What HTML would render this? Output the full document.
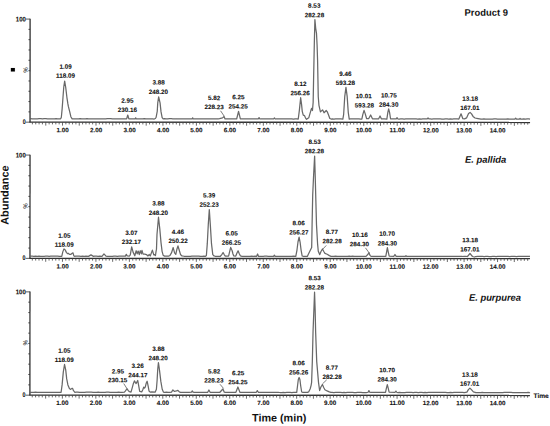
<!DOCTYPE html><html><head><meta charset="utf-8"><style>html,body{margin:0;padding:0;background:#fff;overflow:hidden}svg{display:block}</style></head><body>
<svg width="550" height="426" viewBox="0 0 550 426">
<rect width="550" height="426" fill="#fff"/>
<g transform="rotate(0.03 275 213)" font-family="Liberation Sans, sans-serif" font-weight="bold" fill="#111" stroke="#111" stroke-width="0.08">
<polyline transform="translate(0,0.3)" fill="none" stroke="#686868" stroke-width="1.25" stroke-linejoin="round" points="30.5,118.5 32.2,118.6 33.9,118.6 35.6,118.6 37.3,118.6 39.0,118.5 40.7,118.5 42.4,118.7 44.1,118.5 45.8,118.5 47.5,118.7 49.2,118.6 50.9,118.7 52.6,118.6 54.3,118.6 56.0,118.5 57.7,118.6 60.6,118.6 61.3,117.0 62.1,108.4 62.9,97.6 63.7,86.8 64.6,80.9 65.6,86.8 66.9,97.6 67.8,103.5 68.3,106.2 69.7,111.6 70.8,116.5 72.1,118.7 73.3,118.7 75.0,118.6 76.7,118.7 78.4,118.6 80.1,118.5 81.8,118.7 83.5,118.6 85.2,118.6 86.9,118.5 88.6,118.7 90.3,118.6 92.0,118.7 93.7,118.7 95.4,118.7 97.1,118.7 98.8,118.6 100.5,118.7 102.2,118.6 103.9,118.7 105.6,118.7 107.3,118.5 109.0,118.5 110.7,118.5 112.4,118.7 114.1,118.6 115.8,118.6 117.5,118.6 119.2,118.6 120.9,118.6 122.6,118.6 124.3,118.6 126.6,118.7 127.7,114.8 128.8,118.7 130.0,118.6 131.7,118.7 133.4,118.6 135.0,118.7 135.6,117.6 136.2,118.7 137.4,118.7 139.1,118.7 140.8,118.7 142.5,118.6 144.2,118.5 145.9,118.7 147.6,118.7 149.3,118.7 151.0,118.6 152.7,118.7 154.2,118.8 155.2,118.3 156.1,117.0 157.2,111.0 157.7,102.6 158.6,96.6 160.0,102.6 161.0,111.7 162.1,117.4 163.1,118.6 164.3,118.5 166.0,118.7 167.7,118.6 169.4,118.5 171.1,118.5 172.8,118.7 174.5,118.7 176.2,118.5 177.9,118.7 179.6,118.6 181.3,118.5 183.0,118.6 184.7,118.7 186.4,118.7 188.1,118.5 189.8,118.6 192.0,118.7 192.6,117.6 193.2,118.7 194.4,118.5 196.1,118.7 197.8,118.6 199.5,118.7 201.2,118.7 202.9,118.6 204.6,118.7 206.3,118.6 208.0,118.5 209.7,118.6 211.4,118.5 213.1,118.5 214.8,118.6 216.5,118.6 218.2,118.5 219.5,118.4 222.5,117.6 224.0,116.2 225.0,118.7 226.2,118.5 227.9,118.7 229.6,118.6 231.3,118.7 233.0,118.7 234.7,118.6 236.6,118.7 238.5,111.0 240.3,118.7 241.5,118.6 243.2,118.6 244.9,118.6 246.6,118.6 248.3,118.6 250.0,118.6 251.7,118.7 253.4,118.6 255.1,118.6 256.8,118.7 258.2,118.7 259.0,117.3 259.8,118.7 261.0,118.5 262.7,118.6 264.4,118.7 266.1,118.6 267.8,118.6 269.5,118.5 271.2,118.6 273.6,118.7 274.4,117.6 275.2,118.7 276.4,118.6 278.1,118.5 279.8,118.6 281.5,118.6 283.2,118.5 284.9,118.6 286.6,118.6 288.3,118.6 290.0,118.6 291.7,118.6 293.4,118.7 295.1,118.5 296.8,118.5 298.2,118.7 299.3,110.0 300.6,97.4 301.5,104.0 302.2,111.0 303.2,114.8 304.4,115.3 305.4,117.5 306.5,119.0 308.7,117.5 310.0,113.0 311.0,109.5 311.6,108.0 312.4,110.2 313.1,102.0 313.5,80.0 313.9,60.0 314.3,40.0 314.8,19.3 315.6,28.0 316.4,33.0 317.0,45.0 317.5,60.0 318.2,96.4 318.9,105.0 320.4,111.6 322.5,109.5 324.0,112.4 326.2,110.2 327.3,111.6 328.4,114.5 329.8,118.2 331.0,118.7 332.2,118.6 333.9,118.7 335.6,118.5 337.3,118.6 339.0,118.6 340.7,118.6 342.8,118.7 343.6,114.0 344.7,96.0 345.9,87.0 347.1,96.0 348.2,112.0 349.2,118.7 350.4,118.6 352.1,118.6 353.8,118.6 355.5,118.6 357.2,118.6 358.9,118.6 360.6,118.7 361.8,118.7 362.8,114.0 364.0,110.0 365.2,113.5 366.6,118.4 368.6,118.4 370.6,114.6 372.4,118.5 378.5,118.6 380.0,115.6 381.4,118.6 382.6,118.5 384.3,118.6 386.8,118.7 387.8,112.0 388.6,108.6 389.5,112.0 390.5,118.4 396.2,118.4 397.0,117.3 397.8,118.6 399.0,118.7 400.7,118.6 402.4,118.5 404.1,118.7 405.8,118.5 407.5,118.5 409.2,118.6 410.9,118.6 412.6,118.5 414.3,118.6 416.0,118.6 417.7,118.7 419.4,118.6 421.1,118.7 422.8,118.5 424.5,118.6 427.2,118.6 428.0,117.6 428.8,118.6 430.0,118.6 431.7,118.7 433.4,118.6 435.1,118.5 436.8,118.5 438.5,118.6 440.2,118.5 441.9,118.7 443.6,118.7 445.3,118.5 447.0,118.5 448.7,118.7 450.4,118.6 452.1,118.7 453.8,118.6 455.5,118.5 457.2,118.6 458.8,118.7 461.0,113.4 462.8,118.3 464.5,118.5 466.5,117.5 468.5,113.0 470.0,112.0 471.5,113.5 473.0,116.0 475.0,117.6 478.0,118.2 481.0,118.8 482.2,118.7 483.9,118.5 485.6,118.6 487.3,118.6 489.0,118.6 490.7,118.6 492.4,118.7 494.1,118.5 495.8,118.5 497.5,118.7 499.2,118.7 500.9,118.7 502.6,118.6 504.3,118.7 506.0,118.7 507.7,118.5 509.4,118.7 511.1,118.7 512.8,118.6 514.8,118.8 515.6,117.8 516.6,118.8 519.2,118.8 520.0,118.0 520.8,118.8 522.0,118.6 523.7,118.5 525.4,118.6 527.1,118.5 528.8,118.5 530.0,118.6"/>
<line x1="30.0" y1="18.9" x2="30.0" y2="122.3" stroke="#333" stroke-width="1.3"/>
<line x1="25.7" y1="19.2" x2="30.0" y2="19.2" stroke="#333" stroke-width="0.8"/>
<line x1="25.7" y1="122.3" x2="30.0" y2="122.3" stroke="#333" stroke-width="0.8"/>
<line x1="28.4" y1="29.5" x2="30.0" y2="29.5" stroke="#333" stroke-width="0.9"/>
<line x1="28.4" y1="39.8" x2="30.0" y2="39.8" stroke="#333" stroke-width="0.9"/>
<line x1="28.4" y1="50.1" x2="30.0" y2="50.1" stroke="#333" stroke-width="0.9"/>
<line x1="28.4" y1="60.4" x2="30.0" y2="60.4" stroke="#333" stroke-width="0.9"/>
<line x1="28.4" y1="70.8" x2="30.0" y2="70.8" stroke="#333" stroke-width="0.9"/>
<line x1="28.4" y1="81.1" x2="30.0" y2="81.1" stroke="#333" stroke-width="0.9"/>
<line x1="28.4" y1="91.4" x2="30.0" y2="91.4" stroke="#333" stroke-width="0.9"/>
<line x1="28.4" y1="101.7" x2="30.0" y2="101.7" stroke="#333" stroke-width="0.9"/>
<line x1="28.4" y1="112.0" x2="30.0" y2="112.0" stroke="#333" stroke-width="0.9"/>
<line x1="29.4" y1="122.3" x2="530.0" y2="122.3" stroke="#333" stroke-width="1.4"/>
<line x1="32.35" y1="122.3" x2="32.35" y2="124.5" stroke="#444" stroke-width="0.8"/>
<line x1="35.69" y1="122.3" x2="35.69" y2="124.5" stroke="#444" stroke-width="0.8"/>
<line x1="39.04" y1="122.3" x2="39.04" y2="124.5" stroke="#444" stroke-width="0.8"/>
<line x1="42.39" y1="122.3" x2="42.39" y2="124.5" stroke="#444" stroke-width="0.8"/>
<line x1="45.73" y1="122.3" x2="45.73" y2="125.7" stroke="#444" stroke-width="0.8"/>
<line x1="49.08" y1="122.3" x2="49.08" y2="124.5" stroke="#444" stroke-width="0.8"/>
<line x1="52.43" y1="122.3" x2="52.43" y2="124.5" stroke="#444" stroke-width="0.8"/>
<line x1="55.78" y1="122.3" x2="55.78" y2="124.5" stroke="#444" stroke-width="0.8"/>
<line x1="59.12" y1="122.3" x2="59.12" y2="124.5" stroke="#444" stroke-width="0.8"/>
<line x1="62.47" y1="122.3" x2="62.47" y2="125.7" stroke="#444" stroke-width="0.8"/>
<line x1="65.82" y1="122.3" x2="65.82" y2="124.5" stroke="#444" stroke-width="0.8"/>
<line x1="69.16" y1="122.3" x2="69.16" y2="124.5" stroke="#444" stroke-width="0.8"/>
<line x1="72.51" y1="122.3" x2="72.51" y2="124.5" stroke="#444" stroke-width="0.8"/>
<line x1="75.86" y1="122.3" x2="75.86" y2="124.5" stroke="#444" stroke-width="0.8"/>
<line x1="79.21" y1="122.3" x2="79.21" y2="125.7" stroke="#444" stroke-width="0.8"/>
<line x1="82.55" y1="122.3" x2="82.55" y2="124.5" stroke="#444" stroke-width="0.8"/>
<line x1="85.90" y1="122.3" x2="85.90" y2="124.5" stroke="#444" stroke-width="0.8"/>
<line x1="89.25" y1="122.3" x2="89.25" y2="124.5" stroke="#444" stroke-width="0.8"/>
<line x1="92.59" y1="122.3" x2="92.59" y2="124.5" stroke="#444" stroke-width="0.8"/>
<line x1="95.94" y1="122.3" x2="95.94" y2="125.7" stroke="#444" stroke-width="0.8"/>
<line x1="99.29" y1="122.3" x2="99.29" y2="124.5" stroke="#444" stroke-width="0.8"/>
<line x1="102.63" y1="122.3" x2="102.63" y2="124.5" stroke="#444" stroke-width="0.8"/>
<line x1="105.98" y1="122.3" x2="105.98" y2="124.5" stroke="#444" stroke-width="0.8"/>
<line x1="109.33" y1="122.3" x2="109.33" y2="124.5" stroke="#444" stroke-width="0.8"/>
<line x1="112.68" y1="122.3" x2="112.68" y2="125.7" stroke="#444" stroke-width="0.8"/>
<line x1="116.02" y1="122.3" x2="116.02" y2="124.5" stroke="#444" stroke-width="0.8"/>
<line x1="119.37" y1="122.3" x2="119.37" y2="124.5" stroke="#444" stroke-width="0.8"/>
<line x1="122.72" y1="122.3" x2="122.72" y2="124.5" stroke="#444" stroke-width="0.8"/>
<line x1="126.06" y1="122.3" x2="126.06" y2="124.5" stroke="#444" stroke-width="0.8"/>
<line x1="129.41" y1="122.3" x2="129.41" y2="125.7" stroke="#444" stroke-width="0.8"/>
<line x1="132.76" y1="122.3" x2="132.76" y2="124.5" stroke="#444" stroke-width="0.8"/>
<line x1="136.10" y1="122.3" x2="136.10" y2="124.5" stroke="#444" stroke-width="0.8"/>
<line x1="139.45" y1="122.3" x2="139.45" y2="124.5" stroke="#444" stroke-width="0.8"/>
<line x1="142.80" y1="122.3" x2="142.80" y2="124.5" stroke="#444" stroke-width="0.8"/>
<line x1="146.15" y1="122.3" x2="146.15" y2="125.7" stroke="#444" stroke-width="0.8"/>
<line x1="149.49" y1="122.3" x2="149.49" y2="124.5" stroke="#444" stroke-width="0.8"/>
<line x1="152.84" y1="122.3" x2="152.84" y2="124.5" stroke="#444" stroke-width="0.8"/>
<line x1="156.19" y1="122.3" x2="156.19" y2="124.5" stroke="#444" stroke-width="0.8"/>
<line x1="159.53" y1="122.3" x2="159.53" y2="124.5" stroke="#444" stroke-width="0.8"/>
<line x1="162.88" y1="122.3" x2="162.88" y2="125.7" stroke="#444" stroke-width="0.8"/>
<line x1="166.23" y1="122.3" x2="166.23" y2="124.5" stroke="#444" stroke-width="0.8"/>
<line x1="169.57" y1="122.3" x2="169.57" y2="124.5" stroke="#444" stroke-width="0.8"/>
<line x1="172.92" y1="122.3" x2="172.92" y2="124.5" stroke="#444" stroke-width="0.8"/>
<line x1="176.27" y1="122.3" x2="176.27" y2="124.5" stroke="#444" stroke-width="0.8"/>
<line x1="179.62" y1="122.3" x2="179.62" y2="125.7" stroke="#444" stroke-width="0.8"/>
<line x1="182.96" y1="122.3" x2="182.96" y2="124.5" stroke="#444" stroke-width="0.8"/>
<line x1="186.31" y1="122.3" x2="186.31" y2="124.5" stroke="#444" stroke-width="0.8"/>
<line x1="189.66" y1="122.3" x2="189.66" y2="124.5" stroke="#444" stroke-width="0.8"/>
<line x1="193.00" y1="122.3" x2="193.00" y2="124.5" stroke="#444" stroke-width="0.8"/>
<line x1="196.35" y1="122.3" x2="196.35" y2="125.7" stroke="#444" stroke-width="0.8"/>
<line x1="199.70" y1="122.3" x2="199.70" y2="124.5" stroke="#444" stroke-width="0.8"/>
<line x1="203.04" y1="122.3" x2="203.04" y2="124.5" stroke="#444" stroke-width="0.8"/>
<line x1="206.39" y1="122.3" x2="206.39" y2="124.5" stroke="#444" stroke-width="0.8"/>
<line x1="209.74" y1="122.3" x2="209.74" y2="124.5" stroke="#444" stroke-width="0.8"/>
<line x1="213.08" y1="122.3" x2="213.08" y2="125.7" stroke="#444" stroke-width="0.8"/>
<line x1="216.43" y1="122.3" x2="216.43" y2="124.5" stroke="#444" stroke-width="0.8"/>
<line x1="219.78" y1="122.3" x2="219.78" y2="124.5" stroke="#444" stroke-width="0.8"/>
<line x1="223.13" y1="122.3" x2="223.13" y2="124.5" stroke="#444" stroke-width="0.8"/>
<line x1="226.47" y1="122.3" x2="226.47" y2="124.5" stroke="#444" stroke-width="0.8"/>
<line x1="229.82" y1="122.3" x2="229.82" y2="125.7" stroke="#444" stroke-width="0.8"/>
<line x1="233.17" y1="122.3" x2="233.17" y2="124.5" stroke="#444" stroke-width="0.8"/>
<line x1="236.51" y1="122.3" x2="236.51" y2="124.5" stroke="#444" stroke-width="0.8"/>
<line x1="239.86" y1="122.3" x2="239.86" y2="124.5" stroke="#444" stroke-width="0.8"/>
<line x1="243.21" y1="122.3" x2="243.21" y2="124.5" stroke="#444" stroke-width="0.8"/>
<line x1="246.55" y1="122.3" x2="246.55" y2="125.7" stroke="#444" stroke-width="0.8"/>
<line x1="249.90" y1="122.3" x2="249.90" y2="124.5" stroke="#444" stroke-width="0.8"/>
<line x1="253.25" y1="122.3" x2="253.25" y2="124.5" stroke="#444" stroke-width="0.8"/>
<line x1="256.60" y1="122.3" x2="256.60" y2="124.5" stroke="#444" stroke-width="0.8"/>
<line x1="259.94" y1="122.3" x2="259.94" y2="124.5" stroke="#444" stroke-width="0.8"/>
<line x1="263.29" y1="122.3" x2="263.29" y2="125.7" stroke="#444" stroke-width="0.8"/>
<line x1="266.64" y1="122.3" x2="266.64" y2="124.5" stroke="#444" stroke-width="0.8"/>
<line x1="269.98" y1="122.3" x2="269.98" y2="124.5" stroke="#444" stroke-width="0.8"/>
<line x1="273.33" y1="122.3" x2="273.33" y2="124.5" stroke="#444" stroke-width="0.8"/>
<line x1="276.68" y1="122.3" x2="276.68" y2="124.5" stroke="#444" stroke-width="0.8"/>
<line x1="280.02" y1="122.3" x2="280.02" y2="125.7" stroke="#444" stroke-width="0.8"/>
<line x1="283.37" y1="122.3" x2="283.37" y2="124.5" stroke="#444" stroke-width="0.8"/>
<line x1="286.72" y1="122.3" x2="286.72" y2="124.5" stroke="#444" stroke-width="0.8"/>
<line x1="290.07" y1="122.3" x2="290.07" y2="124.5" stroke="#444" stroke-width="0.8"/>
<line x1="293.41" y1="122.3" x2="293.41" y2="124.5" stroke="#444" stroke-width="0.8"/>
<line x1="296.76" y1="122.3" x2="296.76" y2="125.7" stroke="#444" stroke-width="0.8"/>
<line x1="300.11" y1="122.3" x2="300.11" y2="124.5" stroke="#444" stroke-width="0.8"/>
<line x1="303.45" y1="122.3" x2="303.45" y2="124.5" stroke="#444" stroke-width="0.8"/>
<line x1="306.80" y1="122.3" x2="306.80" y2="124.5" stroke="#444" stroke-width="0.8"/>
<line x1="310.15" y1="122.3" x2="310.15" y2="124.5" stroke="#444" stroke-width="0.8"/>
<line x1="313.49" y1="122.3" x2="313.49" y2="125.7" stroke="#444" stroke-width="0.8"/>
<line x1="316.84" y1="122.3" x2="316.84" y2="124.5" stroke="#444" stroke-width="0.8"/>
<line x1="320.19" y1="122.3" x2="320.19" y2="124.5" stroke="#444" stroke-width="0.8"/>
<line x1="323.54" y1="122.3" x2="323.54" y2="124.5" stroke="#444" stroke-width="0.8"/>
<line x1="326.88" y1="122.3" x2="326.88" y2="124.5" stroke="#444" stroke-width="0.8"/>
<line x1="330.23" y1="122.3" x2="330.23" y2="125.7" stroke="#444" stroke-width="0.8"/>
<line x1="333.58" y1="122.3" x2="333.58" y2="124.5" stroke="#444" stroke-width="0.8"/>
<line x1="336.92" y1="122.3" x2="336.92" y2="124.5" stroke="#444" stroke-width="0.8"/>
<line x1="340.27" y1="122.3" x2="340.27" y2="124.5" stroke="#444" stroke-width="0.8"/>
<line x1="343.62" y1="122.3" x2="343.62" y2="124.5" stroke="#444" stroke-width="0.8"/>
<line x1="346.96" y1="122.3" x2="346.96" y2="125.7" stroke="#444" stroke-width="0.8"/>
<line x1="350.31" y1="122.3" x2="350.31" y2="124.5" stroke="#444" stroke-width="0.8"/>
<line x1="353.66" y1="122.3" x2="353.66" y2="124.5" stroke="#444" stroke-width="0.8"/>
<line x1="357.01" y1="122.3" x2="357.01" y2="124.5" stroke="#444" stroke-width="0.8"/>
<line x1="360.35" y1="122.3" x2="360.35" y2="124.5" stroke="#444" stroke-width="0.8"/>
<line x1="363.70" y1="122.3" x2="363.70" y2="125.7" stroke="#444" stroke-width="0.8"/>
<line x1="367.05" y1="122.3" x2="367.05" y2="124.5" stroke="#444" stroke-width="0.8"/>
<line x1="370.39" y1="122.3" x2="370.39" y2="124.5" stroke="#444" stroke-width="0.8"/>
<line x1="373.74" y1="122.3" x2="373.74" y2="124.5" stroke="#444" stroke-width="0.8"/>
<line x1="377.09" y1="122.3" x2="377.09" y2="124.5" stroke="#444" stroke-width="0.8"/>
<line x1="380.43" y1="122.3" x2="380.43" y2="125.7" stroke="#444" stroke-width="0.8"/>
<line x1="383.78" y1="122.3" x2="383.78" y2="124.5" stroke="#444" stroke-width="0.8"/>
<line x1="387.13" y1="122.3" x2="387.13" y2="124.5" stroke="#444" stroke-width="0.8"/>
<line x1="390.48" y1="122.3" x2="390.48" y2="124.5" stroke="#444" stroke-width="0.8"/>
<line x1="393.82" y1="122.3" x2="393.82" y2="124.5" stroke="#444" stroke-width="0.8"/>
<line x1="397.17" y1="122.3" x2="397.17" y2="125.7" stroke="#444" stroke-width="0.8"/>
<line x1="400.52" y1="122.3" x2="400.52" y2="124.5" stroke="#444" stroke-width="0.8"/>
<line x1="403.86" y1="122.3" x2="403.86" y2="124.5" stroke="#444" stroke-width="0.8"/>
<line x1="407.21" y1="122.3" x2="407.21" y2="124.5" stroke="#444" stroke-width="0.8"/>
<line x1="410.56" y1="122.3" x2="410.56" y2="124.5" stroke="#444" stroke-width="0.8"/>
<line x1="413.90" y1="122.3" x2="413.90" y2="125.7" stroke="#444" stroke-width="0.8"/>
<line x1="417.25" y1="122.3" x2="417.25" y2="124.5" stroke="#444" stroke-width="0.8"/>
<line x1="420.60" y1="122.3" x2="420.60" y2="124.5" stroke="#444" stroke-width="0.8"/>
<line x1="423.95" y1="122.3" x2="423.95" y2="124.5" stroke="#444" stroke-width="0.8"/>
<line x1="427.29" y1="122.3" x2="427.29" y2="124.5" stroke="#444" stroke-width="0.8"/>
<line x1="430.64" y1="122.3" x2="430.64" y2="125.7" stroke="#444" stroke-width="0.8"/>
<line x1="433.99" y1="122.3" x2="433.99" y2="124.5" stroke="#444" stroke-width="0.8"/>
<line x1="437.33" y1="122.3" x2="437.33" y2="124.5" stroke="#444" stroke-width="0.8"/>
<line x1="440.68" y1="122.3" x2="440.68" y2="124.5" stroke="#444" stroke-width="0.8"/>
<line x1="444.03" y1="122.3" x2="444.03" y2="124.5" stroke="#444" stroke-width="0.8"/>
<line x1="447.37" y1="122.3" x2="447.37" y2="125.7" stroke="#444" stroke-width="0.8"/>
<line x1="450.72" y1="122.3" x2="450.72" y2="124.5" stroke="#444" stroke-width="0.8"/>
<line x1="454.07" y1="122.3" x2="454.07" y2="124.5" stroke="#444" stroke-width="0.8"/>
<line x1="457.42" y1="122.3" x2="457.42" y2="124.5" stroke="#444" stroke-width="0.8"/>
<line x1="460.76" y1="122.3" x2="460.76" y2="124.5" stroke="#444" stroke-width="0.8"/>
<line x1="464.11" y1="122.3" x2="464.11" y2="125.7" stroke="#444" stroke-width="0.8"/>
<line x1="467.46" y1="122.3" x2="467.46" y2="124.5" stroke="#444" stroke-width="0.8"/>
<line x1="470.80" y1="122.3" x2="470.80" y2="124.5" stroke="#444" stroke-width="0.8"/>
<line x1="474.15" y1="122.3" x2="474.15" y2="124.5" stroke="#444" stroke-width="0.8"/>
<line x1="477.50" y1="122.3" x2="477.50" y2="124.5" stroke="#444" stroke-width="0.8"/>
<line x1="480.84" y1="122.3" x2="480.84" y2="125.7" stroke="#444" stroke-width="0.8"/>
<line x1="484.19" y1="122.3" x2="484.19" y2="124.5" stroke="#444" stroke-width="0.8"/>
<line x1="487.54" y1="122.3" x2="487.54" y2="124.5" stroke="#444" stroke-width="0.8"/>
<line x1="490.89" y1="122.3" x2="490.89" y2="124.5" stroke="#444" stroke-width="0.8"/>
<line x1="494.23" y1="122.3" x2="494.23" y2="124.5" stroke="#444" stroke-width="0.8"/>
<line x1="497.58" y1="122.3" x2="497.58" y2="125.7" stroke="#444" stroke-width="0.8"/>
<line x1="500.93" y1="122.3" x2="500.93" y2="124.5" stroke="#444" stroke-width="0.8"/>
<line x1="504.27" y1="122.3" x2="504.27" y2="124.5" stroke="#444" stroke-width="0.8"/>
<line x1="507.62" y1="122.3" x2="507.62" y2="124.5" stroke="#444" stroke-width="0.8"/>
<line x1="510.97" y1="122.3" x2="510.97" y2="124.5" stroke="#444" stroke-width="0.8"/>
<line x1="514.31" y1="122.3" x2="514.31" y2="125.7" stroke="#444" stroke-width="0.8"/>
<line x1="517.66" y1="122.3" x2="517.66" y2="124.5" stroke="#444" stroke-width="0.8"/>
<line x1="521.01" y1="122.3" x2="521.01" y2="124.5" stroke="#444" stroke-width="0.8"/>
<line x1="524.36" y1="122.3" x2="524.36" y2="124.5" stroke="#444" stroke-width="0.8"/>
<line x1="527.70" y1="122.3" x2="527.70" y2="124.5" stroke="#444" stroke-width="0.8"/>
<text x="62.57" y="132.31" font-size="6.3" text-anchor="middle">1.00</text>
<text x="96.04" y="132.31" font-size="6.3" text-anchor="middle">2.00</text>
<text x="129.51" y="132.31" font-size="6.3" text-anchor="middle">3.00</text>
<text x="162.98" y="132.31" font-size="6.3" text-anchor="middle">4.00</text>
<text x="196.45" y="132.31" font-size="6.3" text-anchor="middle">5.00</text>
<text x="229.92" y="132.31" font-size="6.3" text-anchor="middle">6.00</text>
<text x="263.39" y="132.31" font-size="6.3" text-anchor="middle">7.00</text>
<text x="296.86" y="132.31" font-size="6.3" text-anchor="middle">8.00</text>
<text x="330.33" y="132.31" font-size="6.3" text-anchor="middle">9.00</text>
<text x="363.80" y="132.31" font-size="6.3" text-anchor="middle">10.00</text>
<text x="397.27" y="132.31" font-size="6.3" text-anchor="middle">11.00</text>
<text x="430.74" y="132.31" font-size="6.3" text-anchor="middle">12.00</text>
<text x="464.21" y="132.31" font-size="6.3" text-anchor="middle">13.00</text>
<text x="497.68" y="132.31" font-size="6.3" text-anchor="middle">14.00</text>
<text transform="translate(25.8,21.70) scale(0.9,1)" font-size="6.7" text-anchor="end">100</text>
<text transform="translate(25.6,124.20) scale(0.8,1)" font-size="6.7" text-anchor="end">0</text>
<text transform="translate(27.6,70.2) rotate(-90)" font-size="6.2" font-weight="normal" fill="#444" stroke="#444" stroke-width="0.1" text-anchor="middle">%</text>
<text x="464.5" y="15.6" font-size="9.4" stroke="none">Product 9</text>
<polyline transform="translate(0,0.0)" fill="none" stroke="#686868" stroke-width="1.25" stroke-linejoin="round" points="30.5,256.3 32.2,256.2 33.9,256.4 35.6,256.2 37.3,256.4 39.0,256.3 40.7,256.4 42.4,256.4 44.1,256.4 45.8,256.3 47.5,256.2 49.2,256.4 50.9,256.2 52.6,256.3 54.3,256.3 56.0,256.3 57.7,256.3 59.4,256.4 61.8,256.5 62.8,252.0 64.0,249.0 65.2,250.0 66.4,252.5 67.5,253.8 68.3,253.4 69.5,254.5 71.0,254.4 72.2,253.4 73.0,253.0 73.8,255.8 74.6,256.5 75.8,256.3 77.5,256.3 79.2,256.2 80.9,256.4 82.6,256.3 84.3,256.4 86.0,256.3 88.5,256.5 91.0,255.0 93.5,256.5 94.7,256.2 96.4,256.3 98.1,256.4 99.8,256.2 102.0,256.5 104.0,254.0 106.0,256.3 107.2,256.4 108.9,256.4 110.6,256.4 112.3,256.4 114.0,256.2 115.7,256.3 117.4,256.4 119.1,256.2 120.8,256.2 122.5,256.2 125.4,256.2 126.3,254.4 127.2,256.0 129.5,256.1 130.3,254.9 131.7,247.0 133.1,252.2 134.8,255.8 136.2,250.8 137.2,253.9 138.2,251.1 139.3,254.6 140.3,250.8 141.4,253.9 142.0,250.4 143.1,254.2 144.8,254.2 146.5,254.6 147.9,256.0 149.3,254.6 150.3,256.0 152.4,250.2 153.8,255.0 154.8,254.8 155.5,255.6 156.0,252.0 156.5,249.2 157.0,234.5 158.5,217.3 159.8,228.9 161.0,242.4 162.1,251.4 163.2,255.4 164.5,256.2 168.5,256.3 170.0,255.5 171.5,253.0 173.2,247.6 174.6,253.0 175.8,254.5 177.0,249.0 178.0,246.0 179.2,250.0 180.5,254.5 182.0,256.0 184.0,256.3 185.2,256.3 186.9,256.3 188.6,256.3 190.3,256.4 192.0,256.2 193.7,256.2 195.4,256.2 197.1,256.2 198.8,256.2 200.5,256.4 202.2,256.4 203.9,256.2 205.6,256.3 206.4,255.6 207.3,243.7 208.3,224.4 209.3,209.6 210.3,224.4 211.5,243.7 212.8,254.7 214.1,256.0 215.2,256.3 216.4,256.3 218.1,256.3 220.4,256.3 221.8,254.6 223.1,252.5 224.2,254.6 225.3,256.2 228.6,256.2 229.6,252.0 230.7,247.5 231.6,249.5 232.1,250.5 233.0,254.0 233.8,256.0 235.8,256.1 237.0,253.0 238.1,250.8 239.2,253.5 240.5,256.0 242.0,256.3 243.2,256.3 244.9,256.3 246.6,256.3 248.3,256.3 250.0,256.3 251.7,256.2 253.4,256.3 255.1,256.2 256.6,256.4 257.6,254.0 258.6,256.4 259.8,256.3 261.5,256.4 263.2,256.3 264.9,256.2 266.6,256.2 268.3,256.3 270.0,256.3 271.7,256.4 273.6,256.4 274.4,255.2 275.2,256.4 276.4,256.3 278.1,256.4 279.8,256.3 281.5,256.3 283.2,256.3 284.9,256.3 286.6,256.3 288.3,256.3 290.0,256.3 291.7,256.3 293.4,256.2 295.8,256.4 297.0,250.0 298.0,242.0 299.1,237.1 300.1,242.0 301.1,250.0 302.2,256.0 303.5,256.4 307.5,256.3 308.0,255.0 310.2,250.5 311.7,247.5 312.1,224.6 312.7,195.0 313.6,175.0 314.6,156.0 315.3,180.0 315.7,195.0 316.5,224.6 317.6,243.8 318.3,251.2 319.8,254.6 321.0,251.5 322.5,249.0 323.8,251.5 325.0,253.4 327.2,254.2 329.4,255.6 331.0,256.3 332.2,256.3 333.9,256.3 335.6,256.2 337.3,256.3 339.0,256.3 340.7,256.4 342.4,256.4 344.1,256.3 345.8,256.4 347.5,256.4 349.2,256.2 350.9,256.3 352.6,256.2 354.3,256.4 356.0,256.3 357.7,256.4 359.4,256.4 361.1,256.3 362.8,256.4 364.5,256.3 366.0,256.4 368.0,254.2 369.0,252.6 370.2,255.6 371.0,256.3 372.2,256.2 373.9,256.3 375.6,256.2 377.3,256.2 379.0,256.4 380.7,256.2 382.4,256.2 384.1,256.2 385.8,256.4 386.6,252.0 387.4,247.6 388.3,252.0 389.2,256.0 393.8,256.3 395.0,254.4 396.2,256.3 397.4,256.4 399.1,256.2 400.8,256.2 402.5,256.4 405.2,256.4 406.0,255.6 406.8,256.4 408.0,256.2 409.7,256.4 411.4,256.3 413.1,256.4 414.8,256.4 416.5,256.3 418.2,256.4 419.9,256.2 421.6,256.4 423.3,256.3 425.0,256.4 426.7,256.2 428.4,256.4 430.1,256.4 431.8,256.2 433.5,256.3 435.2,256.3 436.9,256.4 438.6,256.2 440.3,256.2 442.0,256.2 443.7,256.3 445.4,256.4 447.1,256.3 448.8,256.3 450.5,256.3 452.2,256.3 453.9,256.3 455.6,256.2 457.3,256.3 459.0,256.4 460.7,256.3 462.4,256.4 464.1,256.2 465.8,256.3 467.5,256.4 470.0,253.4 472.5,256.4 474.5,256.9 475.7,256.4 477.4,256.3 479.1,256.3 480.8,256.3 482.5,256.3 484.2,256.4 485.9,256.2 487.6,256.2 489.3,256.4 491.0,256.4 492.7,256.3 494.4,256.3 496.1,256.4 497.8,256.2 499.5,256.2 501.2,256.2 502.9,256.3 504.6,256.3 506.3,256.2 508.0,256.3 509.7,256.4 511.4,256.3 513.1,256.3 514.8,256.3 516.5,256.4 518.2,256.3 519.9,256.2 521.6,256.2 523.3,256.2 525.0,256.3 526.7,256.3 528.4,256.2 530.0,256.3"/>
<line x1="30.0" y1="154.89999999999998" x2="30.0" y2="258.5" stroke="#333" stroke-width="1.3"/>
<line x1="25.7" y1="155.2" x2="30.0" y2="155.2" stroke="#333" stroke-width="0.8"/>
<line x1="25.7" y1="258.5" x2="30.0" y2="258.5" stroke="#333" stroke-width="0.8"/>
<line x1="28.4" y1="165.5" x2="30.0" y2="165.5" stroke="#333" stroke-width="0.9"/>
<line x1="28.4" y1="175.9" x2="30.0" y2="175.9" stroke="#333" stroke-width="0.9"/>
<line x1="28.4" y1="186.2" x2="30.0" y2="186.2" stroke="#333" stroke-width="0.9"/>
<line x1="28.4" y1="196.5" x2="30.0" y2="196.5" stroke="#333" stroke-width="0.9"/>
<line x1="28.4" y1="206.8" x2="30.0" y2="206.8" stroke="#333" stroke-width="0.9"/>
<line x1="28.4" y1="217.2" x2="30.0" y2="217.2" stroke="#333" stroke-width="0.9"/>
<line x1="28.4" y1="227.5" x2="30.0" y2="227.5" stroke="#333" stroke-width="0.9"/>
<line x1="28.4" y1="237.8" x2="30.0" y2="237.8" stroke="#333" stroke-width="0.9"/>
<line x1="28.4" y1="248.2" x2="30.0" y2="248.2" stroke="#333" stroke-width="0.9"/>
<line x1="29.4" y1="258.5" x2="530.0" y2="258.5" stroke="#333" stroke-width="1.4"/>
<line x1="32.35" y1="258.5" x2="32.35" y2="260.7" stroke="#444" stroke-width="0.8"/>
<line x1="35.69" y1="258.5" x2="35.69" y2="260.7" stroke="#444" stroke-width="0.8"/>
<line x1="39.04" y1="258.5" x2="39.04" y2="260.7" stroke="#444" stroke-width="0.8"/>
<line x1="42.39" y1="258.5" x2="42.39" y2="260.7" stroke="#444" stroke-width="0.8"/>
<line x1="45.73" y1="258.5" x2="45.73" y2="261.9" stroke="#444" stroke-width="0.8"/>
<line x1="49.08" y1="258.5" x2="49.08" y2="260.7" stroke="#444" stroke-width="0.8"/>
<line x1="52.43" y1="258.5" x2="52.43" y2="260.7" stroke="#444" stroke-width="0.8"/>
<line x1="55.78" y1="258.5" x2="55.78" y2="260.7" stroke="#444" stroke-width="0.8"/>
<line x1="59.12" y1="258.5" x2="59.12" y2="260.7" stroke="#444" stroke-width="0.8"/>
<line x1="62.47" y1="258.5" x2="62.47" y2="261.9" stroke="#444" stroke-width="0.8"/>
<line x1="65.82" y1="258.5" x2="65.82" y2="260.7" stroke="#444" stroke-width="0.8"/>
<line x1="69.16" y1="258.5" x2="69.16" y2="260.7" stroke="#444" stroke-width="0.8"/>
<line x1="72.51" y1="258.5" x2="72.51" y2="260.7" stroke="#444" stroke-width="0.8"/>
<line x1="75.86" y1="258.5" x2="75.86" y2="260.7" stroke="#444" stroke-width="0.8"/>
<line x1="79.21" y1="258.5" x2="79.21" y2="261.9" stroke="#444" stroke-width="0.8"/>
<line x1="82.55" y1="258.5" x2="82.55" y2="260.7" stroke="#444" stroke-width="0.8"/>
<line x1="85.90" y1="258.5" x2="85.90" y2="260.7" stroke="#444" stroke-width="0.8"/>
<line x1="89.25" y1="258.5" x2="89.25" y2="260.7" stroke="#444" stroke-width="0.8"/>
<line x1="92.59" y1="258.5" x2="92.59" y2="260.7" stroke="#444" stroke-width="0.8"/>
<line x1="95.94" y1="258.5" x2="95.94" y2="261.9" stroke="#444" stroke-width="0.8"/>
<line x1="99.29" y1="258.5" x2="99.29" y2="260.7" stroke="#444" stroke-width="0.8"/>
<line x1="102.63" y1="258.5" x2="102.63" y2="260.7" stroke="#444" stroke-width="0.8"/>
<line x1="105.98" y1="258.5" x2="105.98" y2="260.7" stroke="#444" stroke-width="0.8"/>
<line x1="109.33" y1="258.5" x2="109.33" y2="260.7" stroke="#444" stroke-width="0.8"/>
<line x1="112.68" y1="258.5" x2="112.68" y2="261.9" stroke="#444" stroke-width="0.8"/>
<line x1="116.02" y1="258.5" x2="116.02" y2="260.7" stroke="#444" stroke-width="0.8"/>
<line x1="119.37" y1="258.5" x2="119.37" y2="260.7" stroke="#444" stroke-width="0.8"/>
<line x1="122.72" y1="258.5" x2="122.72" y2="260.7" stroke="#444" stroke-width="0.8"/>
<line x1="126.06" y1="258.5" x2="126.06" y2="260.7" stroke="#444" stroke-width="0.8"/>
<line x1="129.41" y1="258.5" x2="129.41" y2="261.9" stroke="#444" stroke-width="0.8"/>
<line x1="132.76" y1="258.5" x2="132.76" y2="260.7" stroke="#444" stroke-width="0.8"/>
<line x1="136.10" y1="258.5" x2="136.10" y2="260.7" stroke="#444" stroke-width="0.8"/>
<line x1="139.45" y1="258.5" x2="139.45" y2="260.7" stroke="#444" stroke-width="0.8"/>
<line x1="142.80" y1="258.5" x2="142.80" y2="260.7" stroke="#444" stroke-width="0.8"/>
<line x1="146.15" y1="258.5" x2="146.15" y2="261.9" stroke="#444" stroke-width="0.8"/>
<line x1="149.49" y1="258.5" x2="149.49" y2="260.7" stroke="#444" stroke-width="0.8"/>
<line x1="152.84" y1="258.5" x2="152.84" y2="260.7" stroke="#444" stroke-width="0.8"/>
<line x1="156.19" y1="258.5" x2="156.19" y2="260.7" stroke="#444" stroke-width="0.8"/>
<line x1="159.53" y1="258.5" x2="159.53" y2="260.7" stroke="#444" stroke-width="0.8"/>
<line x1="162.88" y1="258.5" x2="162.88" y2="261.9" stroke="#444" stroke-width="0.8"/>
<line x1="166.23" y1="258.5" x2="166.23" y2="260.7" stroke="#444" stroke-width="0.8"/>
<line x1="169.57" y1="258.5" x2="169.57" y2="260.7" stroke="#444" stroke-width="0.8"/>
<line x1="172.92" y1="258.5" x2="172.92" y2="260.7" stroke="#444" stroke-width="0.8"/>
<line x1="176.27" y1="258.5" x2="176.27" y2="260.7" stroke="#444" stroke-width="0.8"/>
<line x1="179.62" y1="258.5" x2="179.62" y2="261.9" stroke="#444" stroke-width="0.8"/>
<line x1="182.96" y1="258.5" x2="182.96" y2="260.7" stroke="#444" stroke-width="0.8"/>
<line x1="186.31" y1="258.5" x2="186.31" y2="260.7" stroke="#444" stroke-width="0.8"/>
<line x1="189.66" y1="258.5" x2="189.66" y2="260.7" stroke="#444" stroke-width="0.8"/>
<line x1="193.00" y1="258.5" x2="193.00" y2="260.7" stroke="#444" stroke-width="0.8"/>
<line x1="196.35" y1="258.5" x2="196.35" y2="261.9" stroke="#444" stroke-width="0.8"/>
<line x1="199.70" y1="258.5" x2="199.70" y2="260.7" stroke="#444" stroke-width="0.8"/>
<line x1="203.04" y1="258.5" x2="203.04" y2="260.7" stroke="#444" stroke-width="0.8"/>
<line x1="206.39" y1="258.5" x2="206.39" y2="260.7" stroke="#444" stroke-width="0.8"/>
<line x1="209.74" y1="258.5" x2="209.74" y2="260.7" stroke="#444" stroke-width="0.8"/>
<line x1="213.08" y1="258.5" x2="213.08" y2="261.9" stroke="#444" stroke-width="0.8"/>
<line x1="216.43" y1="258.5" x2="216.43" y2="260.7" stroke="#444" stroke-width="0.8"/>
<line x1="219.78" y1="258.5" x2="219.78" y2="260.7" stroke="#444" stroke-width="0.8"/>
<line x1="223.13" y1="258.5" x2="223.13" y2="260.7" stroke="#444" stroke-width="0.8"/>
<line x1="226.47" y1="258.5" x2="226.47" y2="260.7" stroke="#444" stroke-width="0.8"/>
<line x1="229.82" y1="258.5" x2="229.82" y2="261.9" stroke="#444" stroke-width="0.8"/>
<line x1="233.17" y1="258.5" x2="233.17" y2="260.7" stroke="#444" stroke-width="0.8"/>
<line x1="236.51" y1="258.5" x2="236.51" y2="260.7" stroke="#444" stroke-width="0.8"/>
<line x1="239.86" y1="258.5" x2="239.86" y2="260.7" stroke="#444" stroke-width="0.8"/>
<line x1="243.21" y1="258.5" x2="243.21" y2="260.7" stroke="#444" stroke-width="0.8"/>
<line x1="246.55" y1="258.5" x2="246.55" y2="261.9" stroke="#444" stroke-width="0.8"/>
<line x1="249.90" y1="258.5" x2="249.90" y2="260.7" stroke="#444" stroke-width="0.8"/>
<line x1="253.25" y1="258.5" x2="253.25" y2="260.7" stroke="#444" stroke-width="0.8"/>
<line x1="256.60" y1="258.5" x2="256.60" y2="260.7" stroke="#444" stroke-width="0.8"/>
<line x1="259.94" y1="258.5" x2="259.94" y2="260.7" stroke="#444" stroke-width="0.8"/>
<line x1="263.29" y1="258.5" x2="263.29" y2="261.9" stroke="#444" stroke-width="0.8"/>
<line x1="266.64" y1="258.5" x2="266.64" y2="260.7" stroke="#444" stroke-width="0.8"/>
<line x1="269.98" y1="258.5" x2="269.98" y2="260.7" stroke="#444" stroke-width="0.8"/>
<line x1="273.33" y1="258.5" x2="273.33" y2="260.7" stroke="#444" stroke-width="0.8"/>
<line x1="276.68" y1="258.5" x2="276.68" y2="260.7" stroke="#444" stroke-width="0.8"/>
<line x1="280.02" y1="258.5" x2="280.02" y2="261.9" stroke="#444" stroke-width="0.8"/>
<line x1="283.37" y1="258.5" x2="283.37" y2="260.7" stroke="#444" stroke-width="0.8"/>
<line x1="286.72" y1="258.5" x2="286.72" y2="260.7" stroke="#444" stroke-width="0.8"/>
<line x1="290.07" y1="258.5" x2="290.07" y2="260.7" stroke="#444" stroke-width="0.8"/>
<line x1="293.41" y1="258.5" x2="293.41" y2="260.7" stroke="#444" stroke-width="0.8"/>
<line x1="296.76" y1="258.5" x2="296.76" y2="261.9" stroke="#444" stroke-width="0.8"/>
<line x1="300.11" y1="258.5" x2="300.11" y2="260.7" stroke="#444" stroke-width="0.8"/>
<line x1="303.45" y1="258.5" x2="303.45" y2="260.7" stroke="#444" stroke-width="0.8"/>
<line x1="306.80" y1="258.5" x2="306.80" y2="260.7" stroke="#444" stroke-width="0.8"/>
<line x1="310.15" y1="258.5" x2="310.15" y2="260.7" stroke="#444" stroke-width="0.8"/>
<line x1="313.49" y1="258.5" x2="313.49" y2="261.9" stroke="#444" stroke-width="0.8"/>
<line x1="316.84" y1="258.5" x2="316.84" y2="260.7" stroke="#444" stroke-width="0.8"/>
<line x1="320.19" y1="258.5" x2="320.19" y2="260.7" stroke="#444" stroke-width="0.8"/>
<line x1="323.54" y1="258.5" x2="323.54" y2="260.7" stroke="#444" stroke-width="0.8"/>
<line x1="326.88" y1="258.5" x2="326.88" y2="260.7" stroke="#444" stroke-width="0.8"/>
<line x1="330.23" y1="258.5" x2="330.23" y2="261.9" stroke="#444" stroke-width="0.8"/>
<line x1="333.58" y1="258.5" x2="333.58" y2="260.7" stroke="#444" stroke-width="0.8"/>
<line x1="336.92" y1="258.5" x2="336.92" y2="260.7" stroke="#444" stroke-width="0.8"/>
<line x1="340.27" y1="258.5" x2="340.27" y2="260.7" stroke="#444" stroke-width="0.8"/>
<line x1="343.62" y1="258.5" x2="343.62" y2="260.7" stroke="#444" stroke-width="0.8"/>
<line x1="346.96" y1="258.5" x2="346.96" y2="261.9" stroke="#444" stroke-width="0.8"/>
<line x1="350.31" y1="258.5" x2="350.31" y2="260.7" stroke="#444" stroke-width="0.8"/>
<line x1="353.66" y1="258.5" x2="353.66" y2="260.7" stroke="#444" stroke-width="0.8"/>
<line x1="357.01" y1="258.5" x2="357.01" y2="260.7" stroke="#444" stroke-width="0.8"/>
<line x1="360.35" y1="258.5" x2="360.35" y2="260.7" stroke="#444" stroke-width="0.8"/>
<line x1="363.70" y1="258.5" x2="363.70" y2="261.9" stroke="#444" stroke-width="0.8"/>
<line x1="367.05" y1="258.5" x2="367.05" y2="260.7" stroke="#444" stroke-width="0.8"/>
<line x1="370.39" y1="258.5" x2="370.39" y2="260.7" stroke="#444" stroke-width="0.8"/>
<line x1="373.74" y1="258.5" x2="373.74" y2="260.7" stroke="#444" stroke-width="0.8"/>
<line x1="377.09" y1="258.5" x2="377.09" y2="260.7" stroke="#444" stroke-width="0.8"/>
<line x1="380.43" y1="258.5" x2="380.43" y2="261.9" stroke="#444" stroke-width="0.8"/>
<line x1="383.78" y1="258.5" x2="383.78" y2="260.7" stroke="#444" stroke-width="0.8"/>
<line x1="387.13" y1="258.5" x2="387.13" y2="260.7" stroke="#444" stroke-width="0.8"/>
<line x1="390.48" y1="258.5" x2="390.48" y2="260.7" stroke="#444" stroke-width="0.8"/>
<line x1="393.82" y1="258.5" x2="393.82" y2="260.7" stroke="#444" stroke-width="0.8"/>
<line x1="397.17" y1="258.5" x2="397.17" y2="261.9" stroke="#444" stroke-width="0.8"/>
<line x1="400.52" y1="258.5" x2="400.52" y2="260.7" stroke="#444" stroke-width="0.8"/>
<line x1="403.86" y1="258.5" x2="403.86" y2="260.7" stroke="#444" stroke-width="0.8"/>
<line x1="407.21" y1="258.5" x2="407.21" y2="260.7" stroke="#444" stroke-width="0.8"/>
<line x1="410.56" y1="258.5" x2="410.56" y2="260.7" stroke="#444" stroke-width="0.8"/>
<line x1="413.90" y1="258.5" x2="413.90" y2="261.9" stroke="#444" stroke-width="0.8"/>
<line x1="417.25" y1="258.5" x2="417.25" y2="260.7" stroke="#444" stroke-width="0.8"/>
<line x1="420.60" y1="258.5" x2="420.60" y2="260.7" stroke="#444" stroke-width="0.8"/>
<line x1="423.95" y1="258.5" x2="423.95" y2="260.7" stroke="#444" stroke-width="0.8"/>
<line x1="427.29" y1="258.5" x2="427.29" y2="260.7" stroke="#444" stroke-width="0.8"/>
<line x1="430.64" y1="258.5" x2="430.64" y2="261.9" stroke="#444" stroke-width="0.8"/>
<line x1="433.99" y1="258.5" x2="433.99" y2="260.7" stroke="#444" stroke-width="0.8"/>
<line x1="437.33" y1="258.5" x2="437.33" y2="260.7" stroke="#444" stroke-width="0.8"/>
<line x1="440.68" y1="258.5" x2="440.68" y2="260.7" stroke="#444" stroke-width="0.8"/>
<line x1="444.03" y1="258.5" x2="444.03" y2="260.7" stroke="#444" stroke-width="0.8"/>
<line x1="447.37" y1="258.5" x2="447.37" y2="261.9" stroke="#444" stroke-width="0.8"/>
<line x1="450.72" y1="258.5" x2="450.72" y2="260.7" stroke="#444" stroke-width="0.8"/>
<line x1="454.07" y1="258.5" x2="454.07" y2="260.7" stroke="#444" stroke-width="0.8"/>
<line x1="457.42" y1="258.5" x2="457.42" y2="260.7" stroke="#444" stroke-width="0.8"/>
<line x1="460.76" y1="258.5" x2="460.76" y2="260.7" stroke="#444" stroke-width="0.8"/>
<line x1="464.11" y1="258.5" x2="464.11" y2="261.9" stroke="#444" stroke-width="0.8"/>
<line x1="467.46" y1="258.5" x2="467.46" y2="260.7" stroke="#444" stroke-width="0.8"/>
<line x1="470.80" y1="258.5" x2="470.80" y2="260.7" stroke="#444" stroke-width="0.8"/>
<line x1="474.15" y1="258.5" x2="474.15" y2="260.7" stroke="#444" stroke-width="0.8"/>
<line x1="477.50" y1="258.5" x2="477.50" y2="260.7" stroke="#444" stroke-width="0.8"/>
<line x1="480.84" y1="258.5" x2="480.84" y2="261.9" stroke="#444" stroke-width="0.8"/>
<line x1="484.19" y1="258.5" x2="484.19" y2="260.7" stroke="#444" stroke-width="0.8"/>
<line x1="487.54" y1="258.5" x2="487.54" y2="260.7" stroke="#444" stroke-width="0.8"/>
<line x1="490.89" y1="258.5" x2="490.89" y2="260.7" stroke="#444" stroke-width="0.8"/>
<line x1="494.23" y1="258.5" x2="494.23" y2="260.7" stroke="#444" stroke-width="0.8"/>
<line x1="497.58" y1="258.5" x2="497.58" y2="261.9" stroke="#444" stroke-width="0.8"/>
<line x1="500.93" y1="258.5" x2="500.93" y2="260.7" stroke="#444" stroke-width="0.8"/>
<line x1="504.27" y1="258.5" x2="504.27" y2="260.7" stroke="#444" stroke-width="0.8"/>
<line x1="507.62" y1="258.5" x2="507.62" y2="260.7" stroke="#444" stroke-width="0.8"/>
<line x1="510.97" y1="258.5" x2="510.97" y2="260.7" stroke="#444" stroke-width="0.8"/>
<line x1="514.31" y1="258.5" x2="514.31" y2="261.9" stroke="#444" stroke-width="0.8"/>
<line x1="517.66" y1="258.5" x2="517.66" y2="260.7" stroke="#444" stroke-width="0.8"/>
<line x1="521.01" y1="258.5" x2="521.01" y2="260.7" stroke="#444" stroke-width="0.8"/>
<line x1="524.36" y1="258.5" x2="524.36" y2="260.7" stroke="#444" stroke-width="0.8"/>
<line x1="527.70" y1="258.5" x2="527.70" y2="260.7" stroke="#444" stroke-width="0.8"/>
<text x="62.57" y="268.60" font-size="6.3" text-anchor="middle">1.00</text>
<text x="96.04" y="268.60" font-size="6.3" text-anchor="middle">2.00</text>
<text x="129.51" y="268.60" font-size="6.3" text-anchor="middle">3.00</text>
<text x="162.98" y="268.60" font-size="6.3" text-anchor="middle">4.00</text>
<text x="196.45" y="268.60" font-size="6.3" text-anchor="middle">5.00</text>
<text x="229.92" y="268.60" font-size="6.3" text-anchor="middle">6.00</text>
<text x="263.39" y="268.60" font-size="6.3" text-anchor="middle">7.00</text>
<text x="296.86" y="268.60" font-size="6.3" text-anchor="middle">8.00</text>
<text x="330.33" y="268.60" font-size="6.3" text-anchor="middle">9.00</text>
<text x="363.80" y="268.60" font-size="6.3" text-anchor="middle">10.00</text>
<text x="397.27" y="268.60" font-size="6.3" text-anchor="middle">11.00</text>
<text x="430.74" y="268.60" font-size="6.3" text-anchor="middle">12.00</text>
<text x="464.21" y="268.60" font-size="6.3" text-anchor="middle">13.00</text>
<text x="497.68" y="268.60" font-size="6.3" text-anchor="middle">14.00</text>
<text transform="translate(25.8,157.70) scale(0.9,1)" font-size="6.7" text-anchor="end">100</text>
<text transform="translate(25.6,260.40) scale(0.8,1)" font-size="6.7" text-anchor="end">0</text>
<text transform="translate(27.6,206.2) rotate(-90)" font-size="6.2" font-weight="normal" fill="#444" stroke="#444" stroke-width="0.1" text-anchor="middle">%</text>
<text x="465" y="162.6" font-size="9.4" stroke="none" font-style="italic">E. pallida</text>
<polyline transform="translate(0,0.0)" fill="none" stroke="#686868" stroke-width="1.25" stroke-linejoin="round" points="30.5,392.4 32.2,392.4 33.9,392.5 35.6,392.3 37.3,392.5 39.0,392.4 40.7,392.4 42.4,392.4 44.1,392.5 45.8,392.5 47.5,392.4 49.2,392.4 50.9,392.5 52.6,392.5 54.3,392.4 56.0,392.5 57.7,392.5 59.4,392.4 61.2,392.4 62.2,385.0 63.4,372.0 64.6,364.6 65.8,370.0 66.8,379.0 68.0,385.0 69.5,388.5 70.8,389.5 72.0,388.5 72.6,388.4 73.6,390.8 75.0,392.4 76.2,392.3 77.9,392.3 79.6,392.5 81.3,392.4 83.0,392.5 84.7,392.5 86.4,392.3 88.1,392.3 89.8,392.3 91.5,392.3 93.2,392.4 94.9,392.5 96.6,392.5 98.3,392.3 100.0,392.5 101.7,392.4 103.4,392.4 105.1,392.5 106.8,392.3 108.5,392.3 110.2,392.5 111.9,392.4 113.6,392.4 115.3,392.4 117.0,392.4 118.7,392.3 120.4,392.4 122.1,392.4 124.5,392.2 125.6,391.0 127.0,388.8 128.2,390.5 129.5,391.8 131.1,392.2 132.3,388.0 133.5,383.5 134.5,381.0 135.4,382.5 136.2,383.6 137.0,382.0 137.8,380.5 138.8,386.0 139.8,391.5 141.8,392.0 143.0,389.5 143.8,387.2 144.6,388.2 145.4,387.0 146.4,383.0 147.2,381.3 148.2,386.0 149.1,391.0 150.3,392.2 152.0,392.0 155.2,392.3 156.5,389.3 157.2,380.3 157.8,369.6 158.5,362.6 159.6,370.5 160.9,381.2 162.3,389.3 163.6,392.2 164.8,392.4 166.5,392.3 168.2,392.4 169.9,392.5 171.6,392.2 173.0,390.0 174.4,391.4 176.6,391.0 178.0,390.4 179.4,392.0 180.6,392.4 182.3,392.4 184.0,392.3 185.7,392.3 187.4,392.4 189.1,392.3 191.6,392.2 192.4,391.0 193.2,392.2 194.4,392.5 196.1,392.5 197.8,392.3 199.5,392.5 201.2,392.4 202.9,392.5 204.6,392.5 206.3,392.4 207.8,392.3 209.0,390.0 210.2,392.3 211.4,392.4 213.1,392.4 214.8,392.5 216.5,392.3 218.2,392.5 220.0,392.3 223.0,389.0 224.4,392.2 225.6,392.5 227.3,392.4 229.0,392.4 230.7,392.3 232.4,392.4 234.1,392.4 236.0,392.3 238.0,387.0 240.0,392.3 241.2,392.5 242.9,392.4 244.6,392.4 246.3,392.3 248.0,392.4 249.7,392.4 251.4,392.3 253.1,392.5 254.8,392.4 256.4,392.3 257.4,390.6 258.4,392.3 259.6,392.3 261.3,392.5 263.0,392.3 264.7,392.4 266.4,392.5 268.1,392.4 269.8,392.4 271.5,392.4 273.2,392.4 274.9,392.4 276.6,392.3 278.3,392.3 280.0,392.5 281.7,392.5 283.4,392.4 285.1,392.5 286.8,392.4 288.5,392.3 290.2,392.4 291.9,392.5 293.6,392.3 295.3,392.4 296.8,392.3 297.6,386.0 298.4,379.5 299.2,377.5 300.0,379.5 300.8,386.0 301.8,392.0 303.0,392.4 307.5,392.3 308.7,391.9 310.2,389.0 311.2,385.3 311.7,382.3 312.4,361.6 313.1,332.0 314.6,292.2 315.2,310.0 315.7,332.0 316.8,361.6 318.6,382.3 319.7,390.5 321.0,387.0 322.5,384.5 323.8,387.5 325.0,389.7 327.2,390.9 329.4,391.9 331.0,392.3 332.2,392.3 333.9,392.5 335.6,392.4 337.3,392.4 339.0,392.4 340.7,392.4 342.4,392.5 344.1,392.4 345.8,392.5 347.5,392.3 349.2,392.3 350.9,392.3 352.6,392.3 354.3,392.5 356.0,392.5 357.7,392.3 359.4,392.3 361.1,392.4 362.8,392.5 364.5,392.5 366.2,392.5 368.2,392.2 369.0,390.6 369.8,392.2 371.0,392.4 372.7,392.3 374.4,392.4 376.1,392.3 377.8,392.4 379.5,392.4 381.2,392.3 382.9,392.3 385.6,392.2 386.5,388.0 387.4,384.6 388.3,388.0 389.2,392.0 395.2,392.2 396.0,391.0 396.8,392.2 398.0,392.5 399.7,392.3 401.4,392.5 403.1,392.5 404.8,392.5 406.5,392.4 408.2,392.4 409.9,392.4 411.6,392.4 413.3,392.5 415.0,392.4 416.7,392.4 418.4,392.5 420.1,392.4 421.8,392.4 423.5,392.5 425.2,392.3 426.9,392.5 428.6,392.4 430.3,392.4 432.0,392.4 433.7,392.4 435.4,392.3 437.1,392.4 438.8,392.3 440.5,392.4 442.2,392.4 443.9,392.4 445.6,392.4 447.3,392.5 449.0,392.5 450.7,392.3 452.4,392.5 454.1,392.4 455.8,392.3 457.5,392.4 459.2,392.3 460.9,392.3 462.6,392.4 464.3,392.5 467.0,392.0 468.5,389.5 470.0,388.0 471.5,389.5 473.5,391.8 476.0,392.6 477.2,392.4 478.9,392.5 480.6,392.4 482.3,392.3 484.0,392.5 485.7,392.4 487.4,392.5 489.1,392.5 490.8,392.5 492.5,392.4 494.2,392.5 495.9,392.5 497.6,392.5 499.3,392.4 501.0,392.5 502.7,392.4 504.4,392.3 506.1,392.3 507.8,392.3 509.5,392.3 511.2,392.3 512.9,392.4 514.6,392.4 516.3,392.4 518.0,392.4 519.7,392.4 521.4,392.4 523.1,392.4 524.8,392.5 526.5,392.4 528.2,392.3 529.9,392.5 530.0,392.4"/>
<line x1="30.0" y1="291.7" x2="30.0" y2="395.3" stroke="#333" stroke-width="1.3"/>
<line x1="25.7" y1="292.0" x2="30.0" y2="292.0" stroke="#333" stroke-width="0.8"/>
<line x1="25.7" y1="395.3" x2="30.0" y2="395.3" stroke="#333" stroke-width="0.8"/>
<line x1="28.4" y1="302.3" x2="30.0" y2="302.3" stroke="#333" stroke-width="0.9"/>
<line x1="28.4" y1="312.7" x2="30.0" y2="312.7" stroke="#333" stroke-width="0.9"/>
<line x1="28.4" y1="323.0" x2="30.0" y2="323.0" stroke="#333" stroke-width="0.9"/>
<line x1="28.4" y1="333.3" x2="30.0" y2="333.3" stroke="#333" stroke-width="0.9"/>
<line x1="28.4" y1="343.6" x2="30.0" y2="343.6" stroke="#333" stroke-width="0.9"/>
<line x1="28.4" y1="354.0" x2="30.0" y2="354.0" stroke="#333" stroke-width="0.9"/>
<line x1="28.4" y1="364.3" x2="30.0" y2="364.3" stroke="#333" stroke-width="0.9"/>
<line x1="28.4" y1="374.6" x2="30.0" y2="374.6" stroke="#333" stroke-width="0.9"/>
<line x1="28.4" y1="385.0" x2="30.0" y2="385.0" stroke="#333" stroke-width="0.9"/>
<line x1="29.4" y1="395.3" x2="530.0" y2="395.3" stroke="#333" stroke-width="1.4"/>
<line x1="32.35" y1="395.3" x2="32.35" y2="397.5" stroke="#444" stroke-width="0.8"/>
<line x1="35.69" y1="395.3" x2="35.69" y2="397.5" stroke="#444" stroke-width="0.8"/>
<line x1="39.04" y1="395.3" x2="39.04" y2="397.5" stroke="#444" stroke-width="0.8"/>
<line x1="42.39" y1="395.3" x2="42.39" y2="397.5" stroke="#444" stroke-width="0.8"/>
<line x1="45.73" y1="395.3" x2="45.73" y2="398.7" stroke="#444" stroke-width="0.8"/>
<line x1="49.08" y1="395.3" x2="49.08" y2="397.5" stroke="#444" stroke-width="0.8"/>
<line x1="52.43" y1="395.3" x2="52.43" y2="397.5" stroke="#444" stroke-width="0.8"/>
<line x1="55.78" y1="395.3" x2="55.78" y2="397.5" stroke="#444" stroke-width="0.8"/>
<line x1="59.12" y1="395.3" x2="59.12" y2="397.5" stroke="#444" stroke-width="0.8"/>
<line x1="62.47" y1="395.3" x2="62.47" y2="398.7" stroke="#444" stroke-width="0.8"/>
<line x1="65.82" y1="395.3" x2="65.82" y2="397.5" stroke="#444" stroke-width="0.8"/>
<line x1="69.16" y1="395.3" x2="69.16" y2="397.5" stroke="#444" stroke-width="0.8"/>
<line x1="72.51" y1="395.3" x2="72.51" y2="397.5" stroke="#444" stroke-width="0.8"/>
<line x1="75.86" y1="395.3" x2="75.86" y2="397.5" stroke="#444" stroke-width="0.8"/>
<line x1="79.21" y1="395.3" x2="79.21" y2="398.7" stroke="#444" stroke-width="0.8"/>
<line x1="82.55" y1="395.3" x2="82.55" y2="397.5" stroke="#444" stroke-width="0.8"/>
<line x1="85.90" y1="395.3" x2="85.90" y2="397.5" stroke="#444" stroke-width="0.8"/>
<line x1="89.25" y1="395.3" x2="89.25" y2="397.5" stroke="#444" stroke-width="0.8"/>
<line x1="92.59" y1="395.3" x2="92.59" y2="397.5" stroke="#444" stroke-width="0.8"/>
<line x1="95.94" y1="395.3" x2="95.94" y2="398.7" stroke="#444" stroke-width="0.8"/>
<line x1="99.29" y1="395.3" x2="99.29" y2="397.5" stroke="#444" stroke-width="0.8"/>
<line x1="102.63" y1="395.3" x2="102.63" y2="397.5" stroke="#444" stroke-width="0.8"/>
<line x1="105.98" y1="395.3" x2="105.98" y2="397.5" stroke="#444" stroke-width="0.8"/>
<line x1="109.33" y1="395.3" x2="109.33" y2="397.5" stroke="#444" stroke-width="0.8"/>
<line x1="112.68" y1="395.3" x2="112.68" y2="398.7" stroke="#444" stroke-width="0.8"/>
<line x1="116.02" y1="395.3" x2="116.02" y2="397.5" stroke="#444" stroke-width="0.8"/>
<line x1="119.37" y1="395.3" x2="119.37" y2="397.5" stroke="#444" stroke-width="0.8"/>
<line x1="122.72" y1="395.3" x2="122.72" y2="397.5" stroke="#444" stroke-width="0.8"/>
<line x1="126.06" y1="395.3" x2="126.06" y2="397.5" stroke="#444" stroke-width="0.8"/>
<line x1="129.41" y1="395.3" x2="129.41" y2="398.7" stroke="#444" stroke-width="0.8"/>
<line x1="132.76" y1="395.3" x2="132.76" y2="397.5" stroke="#444" stroke-width="0.8"/>
<line x1="136.10" y1="395.3" x2="136.10" y2="397.5" stroke="#444" stroke-width="0.8"/>
<line x1="139.45" y1="395.3" x2="139.45" y2="397.5" stroke="#444" stroke-width="0.8"/>
<line x1="142.80" y1="395.3" x2="142.80" y2="397.5" stroke="#444" stroke-width="0.8"/>
<line x1="146.15" y1="395.3" x2="146.15" y2="398.7" stroke="#444" stroke-width="0.8"/>
<line x1="149.49" y1="395.3" x2="149.49" y2="397.5" stroke="#444" stroke-width="0.8"/>
<line x1="152.84" y1="395.3" x2="152.84" y2="397.5" stroke="#444" stroke-width="0.8"/>
<line x1="156.19" y1="395.3" x2="156.19" y2="397.5" stroke="#444" stroke-width="0.8"/>
<line x1="159.53" y1="395.3" x2="159.53" y2="397.5" stroke="#444" stroke-width="0.8"/>
<line x1="162.88" y1="395.3" x2="162.88" y2="398.7" stroke="#444" stroke-width="0.8"/>
<line x1="166.23" y1="395.3" x2="166.23" y2="397.5" stroke="#444" stroke-width="0.8"/>
<line x1="169.57" y1="395.3" x2="169.57" y2="397.5" stroke="#444" stroke-width="0.8"/>
<line x1="172.92" y1="395.3" x2="172.92" y2="397.5" stroke="#444" stroke-width="0.8"/>
<line x1="176.27" y1="395.3" x2="176.27" y2="397.5" stroke="#444" stroke-width="0.8"/>
<line x1="179.62" y1="395.3" x2="179.62" y2="398.7" stroke="#444" stroke-width="0.8"/>
<line x1="182.96" y1="395.3" x2="182.96" y2="397.5" stroke="#444" stroke-width="0.8"/>
<line x1="186.31" y1="395.3" x2="186.31" y2="397.5" stroke="#444" stroke-width="0.8"/>
<line x1="189.66" y1="395.3" x2="189.66" y2="397.5" stroke="#444" stroke-width="0.8"/>
<line x1="193.00" y1="395.3" x2="193.00" y2="397.5" stroke="#444" stroke-width="0.8"/>
<line x1="196.35" y1="395.3" x2="196.35" y2="398.7" stroke="#444" stroke-width="0.8"/>
<line x1="199.70" y1="395.3" x2="199.70" y2="397.5" stroke="#444" stroke-width="0.8"/>
<line x1="203.04" y1="395.3" x2="203.04" y2="397.5" stroke="#444" stroke-width="0.8"/>
<line x1="206.39" y1="395.3" x2="206.39" y2="397.5" stroke="#444" stroke-width="0.8"/>
<line x1="209.74" y1="395.3" x2="209.74" y2="397.5" stroke="#444" stroke-width="0.8"/>
<line x1="213.08" y1="395.3" x2="213.08" y2="398.7" stroke="#444" stroke-width="0.8"/>
<line x1="216.43" y1="395.3" x2="216.43" y2="397.5" stroke="#444" stroke-width="0.8"/>
<line x1="219.78" y1="395.3" x2="219.78" y2="397.5" stroke="#444" stroke-width="0.8"/>
<line x1="223.13" y1="395.3" x2="223.13" y2="397.5" stroke="#444" stroke-width="0.8"/>
<line x1="226.47" y1="395.3" x2="226.47" y2="397.5" stroke="#444" stroke-width="0.8"/>
<line x1="229.82" y1="395.3" x2="229.82" y2="398.7" stroke="#444" stroke-width="0.8"/>
<line x1="233.17" y1="395.3" x2="233.17" y2="397.5" stroke="#444" stroke-width="0.8"/>
<line x1="236.51" y1="395.3" x2="236.51" y2="397.5" stroke="#444" stroke-width="0.8"/>
<line x1="239.86" y1="395.3" x2="239.86" y2="397.5" stroke="#444" stroke-width="0.8"/>
<line x1="243.21" y1="395.3" x2="243.21" y2="397.5" stroke="#444" stroke-width="0.8"/>
<line x1="246.55" y1="395.3" x2="246.55" y2="398.7" stroke="#444" stroke-width="0.8"/>
<line x1="249.90" y1="395.3" x2="249.90" y2="397.5" stroke="#444" stroke-width="0.8"/>
<line x1="253.25" y1="395.3" x2="253.25" y2="397.5" stroke="#444" stroke-width="0.8"/>
<line x1="256.60" y1="395.3" x2="256.60" y2="397.5" stroke="#444" stroke-width="0.8"/>
<line x1="259.94" y1="395.3" x2="259.94" y2="397.5" stroke="#444" stroke-width="0.8"/>
<line x1="263.29" y1="395.3" x2="263.29" y2="398.7" stroke="#444" stroke-width="0.8"/>
<line x1="266.64" y1="395.3" x2="266.64" y2="397.5" stroke="#444" stroke-width="0.8"/>
<line x1="269.98" y1="395.3" x2="269.98" y2="397.5" stroke="#444" stroke-width="0.8"/>
<line x1="273.33" y1="395.3" x2="273.33" y2="397.5" stroke="#444" stroke-width="0.8"/>
<line x1="276.68" y1="395.3" x2="276.68" y2="397.5" stroke="#444" stroke-width="0.8"/>
<line x1="280.02" y1="395.3" x2="280.02" y2="398.7" stroke="#444" stroke-width="0.8"/>
<line x1="283.37" y1="395.3" x2="283.37" y2="397.5" stroke="#444" stroke-width="0.8"/>
<line x1="286.72" y1="395.3" x2="286.72" y2="397.5" stroke="#444" stroke-width="0.8"/>
<line x1="290.07" y1="395.3" x2="290.07" y2="397.5" stroke="#444" stroke-width="0.8"/>
<line x1="293.41" y1="395.3" x2="293.41" y2="397.5" stroke="#444" stroke-width="0.8"/>
<line x1="296.76" y1="395.3" x2="296.76" y2="398.7" stroke="#444" stroke-width="0.8"/>
<line x1="300.11" y1="395.3" x2="300.11" y2="397.5" stroke="#444" stroke-width="0.8"/>
<line x1="303.45" y1="395.3" x2="303.45" y2="397.5" stroke="#444" stroke-width="0.8"/>
<line x1="306.80" y1="395.3" x2="306.80" y2="397.5" stroke="#444" stroke-width="0.8"/>
<line x1="310.15" y1="395.3" x2="310.15" y2="397.5" stroke="#444" stroke-width="0.8"/>
<line x1="313.49" y1="395.3" x2="313.49" y2="398.7" stroke="#444" stroke-width="0.8"/>
<line x1="316.84" y1="395.3" x2="316.84" y2="397.5" stroke="#444" stroke-width="0.8"/>
<line x1="320.19" y1="395.3" x2="320.19" y2="397.5" stroke="#444" stroke-width="0.8"/>
<line x1="323.54" y1="395.3" x2="323.54" y2="397.5" stroke="#444" stroke-width="0.8"/>
<line x1="326.88" y1="395.3" x2="326.88" y2="397.5" stroke="#444" stroke-width="0.8"/>
<line x1="330.23" y1="395.3" x2="330.23" y2="398.7" stroke="#444" stroke-width="0.8"/>
<line x1="333.58" y1="395.3" x2="333.58" y2="397.5" stroke="#444" stroke-width="0.8"/>
<line x1="336.92" y1="395.3" x2="336.92" y2="397.5" stroke="#444" stroke-width="0.8"/>
<line x1="340.27" y1="395.3" x2="340.27" y2="397.5" stroke="#444" stroke-width="0.8"/>
<line x1="343.62" y1="395.3" x2="343.62" y2="397.5" stroke="#444" stroke-width="0.8"/>
<line x1="346.96" y1="395.3" x2="346.96" y2="398.7" stroke="#444" stroke-width="0.8"/>
<line x1="350.31" y1="395.3" x2="350.31" y2="397.5" stroke="#444" stroke-width="0.8"/>
<line x1="353.66" y1="395.3" x2="353.66" y2="397.5" stroke="#444" stroke-width="0.8"/>
<line x1="357.01" y1="395.3" x2="357.01" y2="397.5" stroke="#444" stroke-width="0.8"/>
<line x1="360.35" y1="395.3" x2="360.35" y2="397.5" stroke="#444" stroke-width="0.8"/>
<line x1="363.70" y1="395.3" x2="363.70" y2="398.7" stroke="#444" stroke-width="0.8"/>
<line x1="367.05" y1="395.3" x2="367.05" y2="397.5" stroke="#444" stroke-width="0.8"/>
<line x1="370.39" y1="395.3" x2="370.39" y2="397.5" stroke="#444" stroke-width="0.8"/>
<line x1="373.74" y1="395.3" x2="373.74" y2="397.5" stroke="#444" stroke-width="0.8"/>
<line x1="377.09" y1="395.3" x2="377.09" y2="397.5" stroke="#444" stroke-width="0.8"/>
<line x1="380.43" y1="395.3" x2="380.43" y2="398.7" stroke="#444" stroke-width="0.8"/>
<line x1="383.78" y1="395.3" x2="383.78" y2="397.5" stroke="#444" stroke-width="0.8"/>
<line x1="387.13" y1="395.3" x2="387.13" y2="397.5" stroke="#444" stroke-width="0.8"/>
<line x1="390.48" y1="395.3" x2="390.48" y2="397.5" stroke="#444" stroke-width="0.8"/>
<line x1="393.82" y1="395.3" x2="393.82" y2="397.5" stroke="#444" stroke-width="0.8"/>
<line x1="397.17" y1="395.3" x2="397.17" y2="398.7" stroke="#444" stroke-width="0.8"/>
<line x1="400.52" y1="395.3" x2="400.52" y2="397.5" stroke="#444" stroke-width="0.8"/>
<line x1="403.86" y1="395.3" x2="403.86" y2="397.5" stroke="#444" stroke-width="0.8"/>
<line x1="407.21" y1="395.3" x2="407.21" y2="397.5" stroke="#444" stroke-width="0.8"/>
<line x1="410.56" y1="395.3" x2="410.56" y2="397.5" stroke="#444" stroke-width="0.8"/>
<line x1="413.90" y1="395.3" x2="413.90" y2="398.7" stroke="#444" stroke-width="0.8"/>
<line x1="417.25" y1="395.3" x2="417.25" y2="397.5" stroke="#444" stroke-width="0.8"/>
<line x1="420.60" y1="395.3" x2="420.60" y2="397.5" stroke="#444" stroke-width="0.8"/>
<line x1="423.95" y1="395.3" x2="423.95" y2="397.5" stroke="#444" stroke-width="0.8"/>
<line x1="427.29" y1="395.3" x2="427.29" y2="397.5" stroke="#444" stroke-width="0.8"/>
<line x1="430.64" y1="395.3" x2="430.64" y2="398.7" stroke="#444" stroke-width="0.8"/>
<line x1="433.99" y1="395.3" x2="433.99" y2="397.5" stroke="#444" stroke-width="0.8"/>
<line x1="437.33" y1="395.3" x2="437.33" y2="397.5" stroke="#444" stroke-width="0.8"/>
<line x1="440.68" y1="395.3" x2="440.68" y2="397.5" stroke="#444" stroke-width="0.8"/>
<line x1="444.03" y1="395.3" x2="444.03" y2="397.5" stroke="#444" stroke-width="0.8"/>
<line x1="447.37" y1="395.3" x2="447.37" y2="398.7" stroke="#444" stroke-width="0.8"/>
<line x1="450.72" y1="395.3" x2="450.72" y2="397.5" stroke="#444" stroke-width="0.8"/>
<line x1="454.07" y1="395.3" x2="454.07" y2="397.5" stroke="#444" stroke-width="0.8"/>
<line x1="457.42" y1="395.3" x2="457.42" y2="397.5" stroke="#444" stroke-width="0.8"/>
<line x1="460.76" y1="395.3" x2="460.76" y2="397.5" stroke="#444" stroke-width="0.8"/>
<line x1="464.11" y1="395.3" x2="464.11" y2="398.7" stroke="#444" stroke-width="0.8"/>
<line x1="467.46" y1="395.3" x2="467.46" y2="397.5" stroke="#444" stroke-width="0.8"/>
<line x1="470.80" y1="395.3" x2="470.80" y2="397.5" stroke="#444" stroke-width="0.8"/>
<line x1="474.15" y1="395.3" x2="474.15" y2="397.5" stroke="#444" stroke-width="0.8"/>
<line x1="477.50" y1="395.3" x2="477.50" y2="397.5" stroke="#444" stroke-width="0.8"/>
<line x1="480.84" y1="395.3" x2="480.84" y2="398.7" stroke="#444" stroke-width="0.8"/>
<line x1="484.19" y1="395.3" x2="484.19" y2="397.5" stroke="#444" stroke-width="0.8"/>
<line x1="487.54" y1="395.3" x2="487.54" y2="397.5" stroke="#444" stroke-width="0.8"/>
<line x1="490.89" y1="395.3" x2="490.89" y2="397.5" stroke="#444" stroke-width="0.8"/>
<line x1="494.23" y1="395.3" x2="494.23" y2="397.5" stroke="#444" stroke-width="0.8"/>
<line x1="497.58" y1="395.3" x2="497.58" y2="398.7" stroke="#444" stroke-width="0.8"/>
<line x1="500.93" y1="395.3" x2="500.93" y2="397.5" stroke="#444" stroke-width="0.8"/>
<line x1="504.27" y1="395.3" x2="504.27" y2="397.5" stroke="#444" stroke-width="0.8"/>
<line x1="507.62" y1="395.3" x2="507.62" y2="397.5" stroke="#444" stroke-width="0.8"/>
<line x1="510.97" y1="395.3" x2="510.97" y2="397.5" stroke="#444" stroke-width="0.8"/>
<line x1="514.31" y1="395.3" x2="514.31" y2="398.7" stroke="#444" stroke-width="0.8"/>
<line x1="517.66" y1="395.3" x2="517.66" y2="397.5" stroke="#444" stroke-width="0.8"/>
<line x1="521.01" y1="395.3" x2="521.01" y2="397.5" stroke="#444" stroke-width="0.8"/>
<line x1="524.36" y1="395.3" x2="524.36" y2="397.5" stroke="#444" stroke-width="0.8"/>
<line x1="527.70" y1="395.3" x2="527.70" y2="397.5" stroke="#444" stroke-width="0.8"/>
<text x="62.57" y="405.06" font-size="6.3" text-anchor="middle">1.00</text>
<text x="96.04" y="405.06" font-size="6.3" text-anchor="middle">2.00</text>
<text x="129.51" y="405.06" font-size="6.3" text-anchor="middle">3.00</text>
<text x="162.98" y="405.06" font-size="6.3" text-anchor="middle">4.00</text>
<text x="196.45" y="405.06" font-size="6.3" text-anchor="middle">5.00</text>
<text x="229.92" y="405.06" font-size="6.3" text-anchor="middle">6.00</text>
<text x="263.39" y="405.06" font-size="6.3" text-anchor="middle">7.00</text>
<text x="296.86" y="405.06" font-size="6.3" text-anchor="middle">8.00</text>
<text x="330.33" y="405.06" font-size="6.3" text-anchor="middle">9.00</text>
<text x="363.80" y="405.06" font-size="6.3" text-anchor="middle">10.00</text>
<text x="397.27" y="405.06" font-size="6.3" text-anchor="middle">11.00</text>
<text x="430.74" y="405.06" font-size="6.3" text-anchor="middle">12.00</text>
<text x="464.21" y="405.06" font-size="6.3" text-anchor="middle">13.00</text>
<text x="497.68" y="405.06" font-size="6.3" text-anchor="middle">14.00</text>
<text transform="translate(25.8,294.50) scale(0.9,1)" font-size="6.7" text-anchor="end">100</text>
<text transform="translate(25.6,397.20) scale(0.8,1)" font-size="6.7" text-anchor="end">0</text>
<text transform="translate(27.6,343.0) rotate(-90)" font-size="6.2" font-weight="normal" fill="#444" stroke="#444" stroke-width="0.1" text-anchor="middle">%</text>
<text x="469" y="300.7" font-size="9.4" stroke="none" font-style="italic">E. purpurea</text>
<text x="65.45" y="68.75" font-size="6.3" text-anchor="middle">1.09</text>
<text x="65.40" y="77.86" font-size="6.3" text-anchor="middle">118.09</text>
<text x="127.30" y="102.91" font-size="6.3" text-anchor="middle">2.95</text>
<text x="127.30" y="112.16" font-size="6.3" text-anchor="middle">230.16</text>
<text x="158.55" y="84.61" font-size="6.3" text-anchor="middle">3.88</text>
<text x="158.30" y="94.05" font-size="6.3" text-anchor="middle">248.20</text>
<text x="214.15" y="100.16" font-size="6.3" text-anchor="middle">5.82</text>
<text x="214.00" y="109.16" font-size="6.3" text-anchor="middle">228.23</text>
<text x="238.30" y="99.36" font-size="6.3" text-anchor="middle">6.25</text>
<text x="238.00" y="108.41" font-size="6.3" text-anchor="middle">254.25</text>
<text x="300.30" y="86.11" font-size="6.3" text-anchor="middle">8.12</text>
<text x="300.15" y="95.16" font-size="6.3" text-anchor="middle">256.26</text>
<text x="314.15" y="7.80" font-size="6.3" text-anchor="middle">8.53</text>
<text x="314.40" y="17.15" font-size="6.3" text-anchor="middle">282.28</text>
<text x="345.40" y="75.91" font-size="6.3" text-anchor="middle">9.46</text>
<text x="345.40" y="85.05" font-size="6.3" text-anchor="middle">593.28</text>
<text x="363.70" y="98.30" font-size="6.3" text-anchor="middle">10.01</text>
<text x="364.30" y="107.45" font-size="6.3" text-anchor="middle">593.28</text>
<text x="388.80" y="97.50" font-size="6.3" text-anchor="middle">10.75</text>
<text x="388.70" y="106.66" font-size="6.3" text-anchor="middle">284.30</text>
<text x="470.05" y="100.75" font-size="6.3" text-anchor="middle">13.18</text>
<text x="469.80" y="109.80" font-size="6.3" text-anchor="middle">167.01</text>
<text x="64.40" y="237.91" font-size="6.3" text-anchor="middle">1.05</text>
<text x="64.25" y="246.96" font-size="6.3" text-anchor="middle">118.09</text>
<text x="131.40" y="235.06" font-size="6.3" text-anchor="middle">3.07</text>
<text x="131.30" y="244.11" font-size="6.3" text-anchor="middle">232.17</text>
<text x="158.40" y="205.61" font-size="6.3" text-anchor="middle">3.88</text>
<text x="158.30" y="214.96" font-size="6.3" text-anchor="middle">248.20</text>
<text x="177.85" y="234.01" font-size="6.3" text-anchor="middle">4.46</text>
<text x="178.10" y="243.16" font-size="6.3" text-anchor="middle">250.22</text>
<text x="209.15" y="197.61" font-size="6.3" text-anchor="middle">5.39</text>
<text x="209.15" y="206.91" font-size="6.3" text-anchor="middle">252.23</text>
<text x="231.60" y="235.61" font-size="6.3" text-anchor="middle">6.05</text>
<text x="231.30" y="244.81" font-size="6.3" text-anchor="middle">266.25</text>
<text x="298.65" y="225.16" font-size="6.3" text-anchor="middle">8.06</text>
<text x="298.80" y="234.46" font-size="6.3" text-anchor="middle">256.27</text>
<text x="314.60" y="143.91" font-size="6.3" text-anchor="middle">8.53</text>
<text x="314.45" y="153.31" font-size="6.3" text-anchor="middle">282.28</text>
<text x="331.90" y="233.91" font-size="6.3" text-anchor="middle">8.77</text>
<text x="332.15" y="243.16" font-size="6.3" text-anchor="middle">282.28</text>
<text x="359.90" y="237.06" font-size="6.3" text-anchor="middle">10.16</text>
<text x="359.45" y="246.26" font-size="6.3" text-anchor="middle">284.30</text>
<text x="387.10" y="235.66" font-size="6.3" text-anchor="middle">10.70</text>
<text x="387.30" y="245.36" font-size="6.3" text-anchor="middle">284.30</text>
<text x="470.05" y="242.21" font-size="6.3" text-anchor="middle">13.18</text>
<text x="469.80" y="251.41" font-size="6.3" text-anchor="middle">167.01</text>
<text x="64.40" y="352.90" font-size="6.3" text-anchor="middle">1.05</text>
<text x="64.30" y="362.06" font-size="6.3" text-anchor="middle">118.09</text>
<text x="117.90" y="373.60" font-size="6.3" text-anchor="middle">2.95</text>
<text x="117.75" y="382.40" font-size="6.3" text-anchor="middle">230.15</text>
<text x="137.75" y="368.10" font-size="6.3" text-anchor="middle">3.26</text>
<text x="137.95" y="377.40" font-size="6.3" text-anchor="middle">244.17</text>
<text x="158.40" y="351.00" font-size="6.3" text-anchor="middle">3.88</text>
<text x="158.30" y="360.40" font-size="6.3" text-anchor="middle">248.20</text>
<text x="214.15" y="373.50" font-size="6.3" text-anchor="middle">5.82</text>
<text x="214.00" y="382.50" font-size="6.3" text-anchor="middle">228.23</text>
<text x="238.30" y="375.20" font-size="6.3" text-anchor="middle">6.25</text>
<text x="238.00" y="384.40" font-size="6.3" text-anchor="middle">254.25</text>
<text x="298.75" y="365.20" font-size="6.3" text-anchor="middle">8.06</text>
<text x="298.80" y="374.50" font-size="6.3" text-anchor="middle">256.26</text>
<text x="314.70" y="280.20" font-size="6.3" text-anchor="middle">8.53</text>
<text x="314.45" y="289.50" font-size="6.3" text-anchor="middle">282.28</text>
<text x="331.90" y="369.75" font-size="6.3" text-anchor="middle">8.77</text>
<text x="332.30" y="378.95" font-size="6.3" text-anchor="middle">282.28</text>
<text x="387.20" y="372.20" font-size="6.3" text-anchor="middle">10.70</text>
<text x="387.30" y="381.50" font-size="6.3" text-anchor="middle">284.30</text>
<text x="470.05" y="376.65" font-size="6.3" text-anchor="middle">13.18</text>
<text x="469.80" y="385.65" font-size="6.3" text-anchor="middle">167.01</text>
<line x1="220.5" y1="110.8" x2="224.0" y2="116.0" stroke="#444" stroke-width="0.7"/>
<line x1="326.3" y1="245.4" x2="322.6" y2="249.3" stroke="#444" stroke-width="0.7"/>
<line x1="365.5" y1="247.8" x2="369.0" y2="252.6" stroke="#444" stroke-width="0.7"/>
<line x1="123.8" y1="383.6" x2="127.0" y2="388.6" stroke="#444" stroke-width="0.7"/>
<line x1="220.1" y1="384.3" x2="223.6" y2="388.4" stroke="#444" stroke-width="0.7"/>
<line x1="326.8" y1="379.8" x2="322.6" y2="383.8" stroke="#444" stroke-width="0.7"/>
<rect x="10.8" y="68.1" width="4" height="3.6" fill="#000"/>
<text transform="translate(8.6,224.9) rotate(-90)" font-size="10.9" stroke="none">Abundance</text>
<text x="279.3" y="421.6" font-size="10.8" stroke="none" text-anchor="middle">Time (min)</text>
<text x="533.6" y="397.8" font-size="6.6">Time</text>
</g></svg></body></html>
